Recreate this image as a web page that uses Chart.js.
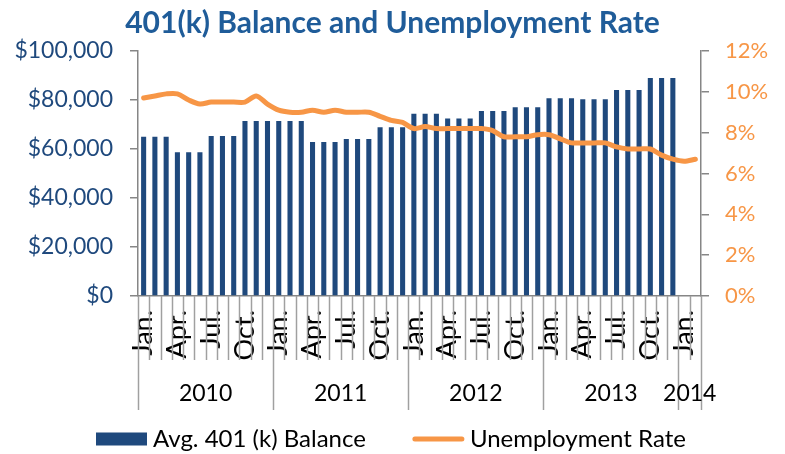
<!DOCTYPE html>
<html>
<head>
<meta charset="utf-8">
<script src="https://cdn.jsdelivr.net/npm/chart.js@4/dist/chart.umd.min.js"></script>
<style>
  html, body { margin: 0; padding: 0; background: #fff; }
  #wrap { width: 785px; height: 454px; position: relative; }
</style>
</head>
<body>
<div id="wrap"><canvas id="chart"></canvas></div>
<script>
// --- data ---
const years = ['2010', '2011', '2012', '2013', '2014'];
const monthsPerYear = [12, 12, 12, 12, 2];
const monthNames = ['Jan.', 'Feb.', 'Mar.', 'Apr.', 'May', 'Jun.', 'Jul.', 'Aug.', 'Sep.', 'Oct.', 'Nov.', 'Dec.'];

// average 401(k) balance, monthly (quarterly steps), none yet for 2014
const balance = [
  65000, 65000, 65000, 58700, 58700, 58700, 65300, 65300, 65300, 71400, 71400, 71400,
  71400, 71400, 71400, 62900, 62900, 62900, 64100, 64100, 64100, 68900, 68900, 68900,
  74400, 74400, 74400, 72500, 72500, 72500, 75500, 75500, 75500, 77000, 77000, 77000,
  80700, 80700, 80700, 80300, 80300, 80300, 84100, 84100, 84100, 89000, 89000, 89000,
  null, null
];

// unemployment rate, %
const unemployment = [
  9.7, 9.8, 9.9, 9.9, 9.6, 9.4, 9.5, 9.5, 9.5, 9.5, 9.8, 9.4,
  9.1, 9.0, 9.0, 9.1, 9.0, 9.1, 9.0, 9.0, 9.0, 8.8, 8.6, 8.5,
  8.2, 8.3, 8.2, 8.2, 8.2, 8.2, 8.2, 8.1, 7.8, 7.8, 7.8, 7.9,
  7.9, 7.7, 7.5, 7.5, 7.5, 7.5, 7.3, 7.2, 7.2, 7.2, 6.9, 6.7,
  6.6, 6.7
];

const balanceMax = 100000;
const balanceStep = 20000;
const rateMax = 12;
const rateStep = 2;

// month labels and the year each month belongs to
const labels = [];
const labelYears = [];
years.forEach((y, i) => {
  for (let m = 0; m < monthsPerYear[i]; m++) {
    labels.push(monthNames[m]);
    labelYears.push(y);
  }
});

const BLUE = '#1F497D';
const ORANGE = '#F79646';
const AXIS = '#868686';
const FONT = 'Lato';

// draws month separators, year separators and year labels under the x axis
const yearAxis = {
  id: 'yearAxis',
  afterDraw(chart) {
    const x = chart.scales.x;
    const ctx = chart.ctx;
    const n = labels.length;
    const slot = x.getPixelForValue(1) - x.getPixelForValue(0);
    const left = x.getPixelForValue(0) - slot / 2;
    const top = x.top;
    ctx.save();
    ctx.strokeStyle = '#A0A0A0';
    ctx.lineWidth = 1.5;
    for (let i = 0; i <= n; i++) {
      const px = Math.round(left + i * slot) + 0.5;
      const isYear = i === n || i === 0 || labelYears[i] !== labelYears[i - 1];
      ctx.beginPath();
      ctx.moveTo(px, top);
      ctx.lineTo(px, top + (isYear ? 114 : 64));
      ctx.stroke();
    }
    ctx.fillStyle = '#000';
    ctx.font = '23px ' + FONT;
    ctx.textAlign = 'center';
    ctx.textBaseline = 'middle';
    let start = 0;
    years.forEach((y, i) => {
      const end = start + monthsPerYear[i];
      ctx.fillText(y, left + (start + end) / 2 * slot, top + 98);
      start = end;
    });
    ctx.restore();
  }
};

// legend drawn along the bottom edge, centred under the chart
const bottomLegend = {
  id: 'bottomLegend',
  afterDraw(chart) {
    const ctx = chart.ctx;
    const [bars, line] = chart.data.datasets;
    const keyW = 51, keyGap = 6, itemGap = 47, cy = 439;
    ctx.save();
    ctx.font = '24px ' + FONT;
    ctx.textBaseline = 'middle';
    ctx.fillStyle = '#000';
    const w1 = ctx.measureText(bars.label).width;
    const w2 = ctx.measureText(line.label).width;
    const total = keyW + keyGap + w1 + itemGap + keyW + keyGap + w2;
    let x = Math.round((chart.width - total) / 2) - 2;
    ctx.fillStyle = bars.backgroundColor;
    ctx.fillRect(x, cy - 6.5, keyW, 13);
    x += keyW + keyGap;
    ctx.fillStyle = '#000';
    ctx.fillText(bars.label, x, cy);
    x += w1 + itemGap;
    ctx.strokeStyle = line.borderColor;
    ctx.lineWidth = line.borderWidth;
    ctx.lineCap = 'round';
    ctx.beginPath();
    ctx.moveTo(x + 2, cy);
    ctx.lineTo(x + keyW - 2, cy);
    ctx.stroke();
    x += keyW + keyGap;
    ctx.fillText(line.label, x, cy);
    ctx.restore();
  }
};

new Chart(document.getElementById('chart'), {
  type: 'bar',
  data: {
    labels: labels,
    datasets: [
      {
        type: 'bar',
        label: 'Avg. 401 (k) Balance',
        data: balance,
        backgroundColor: BLUE,
        borderWidth: 0,
        barPercentage: 0.45,
        categoryPercentage: 1,
        yAxisID: 'y',
        order: 2
      },
      {
        type: 'line',
        label: 'Unemployment Rate',
        data: unemployment,
        borderColor: ORANGE,
        backgroundColor: ORANGE,
        borderWidth: 5,
        pointRadius: 0,
        tension: 0.3,
        borderCapStyle: 'round',
        yAxisID: 'y1',
        order: 1
      }
    ]
  },
  plugins: [yearAxis, bottomLegend],
  options: {
    responsive: true,
    maintainAspectRatio: false,
    animation: false,
    layout: { padding: 0 },
    plugins: {
      title: {
        display: true,
        text: '401(k) Balance and Unemployment Rate',
        color: '#1F5C99',
        font: { family: FONT, size: 30, weight: 'bold' },
        padding: { top: 5, bottom: 10 }
      },
      legend: { display: false },
      tooltip: { enabled: false }
    },
    scales: {
      x: {
        offset: true,
        grid: { display: false },
        border: { color: AXIS, width: 1.5 },
        ticks: {
          autoSkip: false,
          minRotation: 90,
          maxRotation: 90,
          padding: 6,
          color: '#000',
          font: { family: FONT, size: 27 },
          callback: (v, i) => (i % 3 === 0 ? labels[i] : '')
        },
        afterFit: (s) => { s.height = 158; }
      },
      y: {
        position: 'left',
        min: 0,
        max: balanceMax,
        grid: { drawOnChartArea: false, tickLength: 8, color: AXIS, lineWidth: 1.5 },
        border: { color: AXIS, width: 1.5 },
        ticks: {
          stepSize: balanceStep,
          padding: 17,
          color: BLUE,
          font: { family: FONT, size: 23 },
          callback: (v) => '$' + v.toLocaleString('en-US')
        },
        afterFit: (s) => { s.width = 138; }
      },
      y1: {
        position: 'right',
        min: 0,
        max: rateMax,
        grid: { drawOnChartArea: false, tickLength: 8, color: AXIS, lineWidth: 1.5 },
        border: { color: AXIS, width: 1.5 },
        ticks: {
          stepSize: rateStep,
          padding: 16,
          color: ORANGE,
          font: { family: FONT, size: 22 },
          callback: (v) => v + '%'
        },
        afterFit: (s) => { s.width = 84; }
      }
    }
  }
});
</script>
</body>
</html>
